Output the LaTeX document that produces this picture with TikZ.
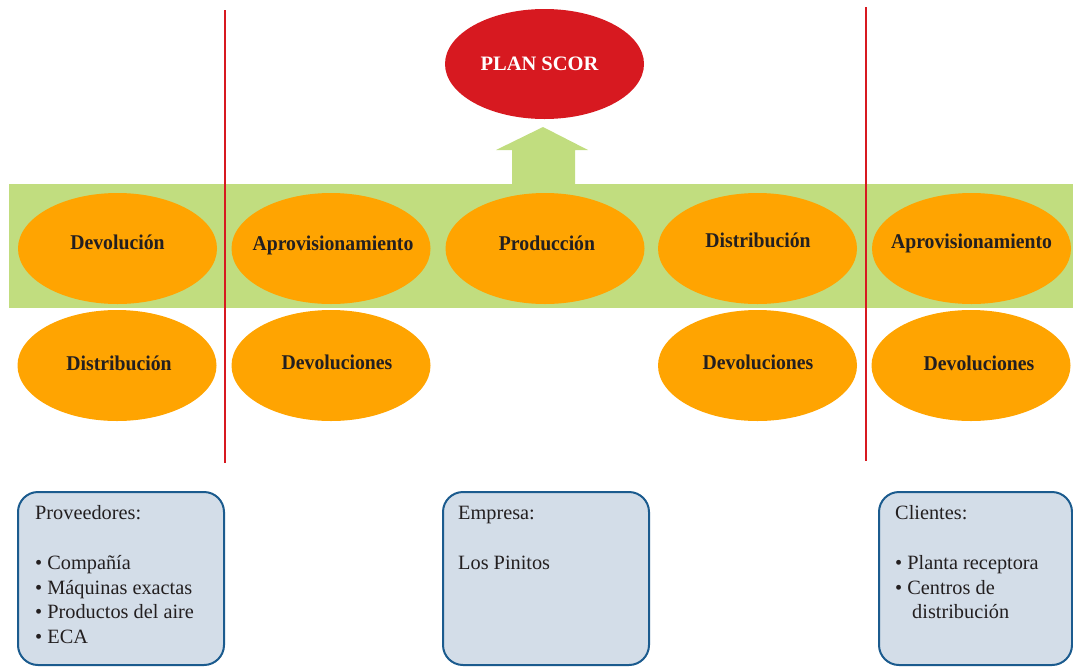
\documentclass[tikz,border=0pt]{standalone}
\usepackage{fontspec}
\setmainfont{Liberation Serif}
\newfontfamily\ellfont[FakeStretch=0.94]{Liberation Serif}
\usetikzlibrary{shapes.geometric}
\definecolor{bandgreen}{HTML}{C1DD7F}
\definecolor{ellorange}{HTML}{FFA401}
\definecolor{planred}{HTML}{D71920}
\definecolor{linered}{HTML}{D71920}
\definecolor{boxfill}{HTML}{D3DDE8}
\definecolor{boxblue}{HTML}{1B5B8E}
\definecolor{textdark}{HTML}{231F20}
\tikzset{
  ell/.style={ellipse, fill=ellorange, minimum width=199pt, minimum height=111pt, inner sep=0pt},
  elltext/.style={font=\ellfont\bfseries\fontsize{21}{25}\selectfont, text=textdark, anchor=base, inner sep=0pt},
  infobox/.style={rectangle, rounded corners=20pt, draw=boxblue, line width=2pt, fill=boxfill, minimum height=173pt, inner sep=0pt},
  boxtext/.style={font=\fontsize{20.3}{24.7}\selectfont, text=textdark, anchor=base west, inner sep=0pt},
  redline/.style={draw=linered, line width=2.2pt},
}
\begin{document}
\begin{tikzpicture}[x=1pt,y=-1pt]
\useasboundingbox (0,0) rectangle (1073,667);
% green band
\fill[bandgreen] (9,184) rectangle (1073,308);
% up arrow
\fill[bandgreen] (512,185) -- (512,150) -- (496,150) -- (543,127) -- (588,150) -- (575,150) -- (575,185) -- cycle;
% plan scor
\node[ellipse, fill=planred, minimum width=199pt, minimum height=110pt, inner sep=0pt] (plan) at (544.5,64) {};
\node[text=white, font=\bfseries\fontsize{20.5}{24}\selectfont, anchor=base, inner sep=0pt] (planlbl) at (539.5,70.5) {PLAN SCOR};
% row 1 ellipses
\node[ell] (e11) at (117.5,248.5) {};
\node[ell] (e12) at (331,248.5) {};
\node[ell] (e13) at (545,248.5) {};
\node[ell] (e14) at (757.5,248.5) {};
\node[ell] (e15) at (971.5,248.5) {};
\node[elltext] (t11) at (117.5,249) {Devolución};
\node[elltext] (t12) at (333,250) {Aprovisionamiento};
\node[elltext] (t13) at (547,250) {Producción};
\node[elltext] (t14) at (758,247) {Distribución};
\node[elltext] (t15) at (971.5,248) {Aprovisionamiento};
% row 2 ellipses
\node[ell] (e21) at (117,365.5) {};
\node[ell] (e22) at (331,365.5) {};
\node[ell] (e24) at (757.5,365.5) {};
\node[ell] (e25) at (971,365.5) {};
\node[elltext] (t21) at (119,370) {Distribución};
\node[elltext] (t22) at (337,369) {Devoluciones};
\node[elltext] (t24) at (758,369) {Devoluciones};
\node[elltext] (t25) at (979,370) {Devoluciones};
% red separators
\draw[redline] (225,10) -- (225,463);
\draw[redline] (866,7) -- (866,461);
% info boxes
\node[infobox, minimum width=206pt] (b1) at (121,578.5) {};
\node[infobox, minimum width=206pt] (b2) at (546,578.5) {};
\node[infobox, minimum width=193pt] (b3) at (975.5,578.5) {};
\node[boxtext] (p0) at (35,519) {Proveedores:};
\node[boxtext] (p1) at (35,569) {• Compañía};
\node[boxtext] (p2) at (35,594) {• Máquinas exactas};
\node[boxtext] (p3) at (35,618) {• Productos del aire};
\node[boxtext] (p4) at (35,643) {• ECA};
\node[boxtext] (m0) at (458,519) {Empresa:};
\node[boxtext] (m1) at (458,569) {Los Pinitos};
\node[boxtext] (c0) at (895,519) {Clientes:};
\node[boxtext] (c1) at (895,569) {• Planta receptora};
\node[boxtext] (c2) at (895,594) {• Centros de};
\node[boxtext] (c3) at (912,618) {distribución};
\end{tikzpicture}
\end{document}
